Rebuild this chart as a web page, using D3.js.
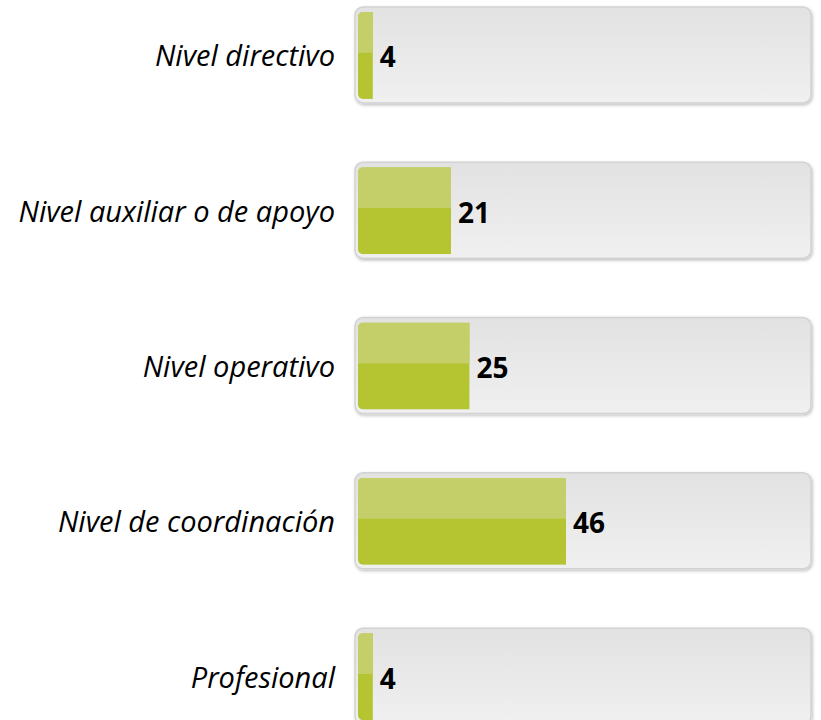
<!DOCTYPE html>
<html><head><meta charset="utf-8">
<script src="https://cdn.jsdelivr.net/npm/d3@7"></script>
<style>html,body{margin:0;padding:0;background:#fff;}svg{display:block;}</style>
</head><body>
<svg id="chart" width="821" height="720"></svg>
<script>
const categories = ["Nivel directivo","Nivel auxiliar o de apoyo","Nivel operativo","Nivel de coordinación","Profesional"];
const values = [4, 21, 25, 46, 4];
const maxValue = 100;

const svg = d3.select("#chart");
const defs = svg.append("defs");

const bgGrad = defs.append("linearGradient").attr("id","bgGrad").attr("x1",0).attr("y1",0).attr("x2",0).attr("y2",1);
bgGrad.append("stop").attr("offset","0%").attr("stop-color","#e3e2e2");
bgGrad.append("stop").attr("offset","100%").attr("stop-color","#f0f0f0");

const shadow = defs.append("filter").attr("id","shadow").attr("x","-5%").attr("y","-10%").attr("width","110%").attr("height","130%");
shadow.append("feDropShadow").attr("dx",1).attr("dy",1.5).attr("stdDeviation",1.5).attr("flood-color","#000").attr("flood-opacity",0.25);

const x = d3.scaleLinear().domain([0, maxValue]).range([354.4, 814.4]);
const y = d3.scaleBand().domain(categories).range([-22.2, 754.3]).paddingInner(0.44).paddingOuter(0.22);

const rows = svg.selectAll("g.row").data(categories.map((c,i)=>({c, v: values[i], i})))
  .enter().append("g").attr("class","row");

// background track
rows.append("rect")
  .attr("x", 355).attr("width", 811 - 355)
  .attr("y", d => y(d.c) - 5).attr("height", y.bandwidth() + 9)
  .attr("rx", 8).attr("ry", 8)
  .attr("fill", "url(#bgGrad)")
  .attr("stroke", "#d2d2d2").attr("stroke-width", 1.5)
  .attr("filter", "url(#shadow)");

// clip for inner bar
rows.each(function(d){
  defs.append("clipPath").attr("id","clip"+d.i)
    .append("rect").attr("x", 358).attr("width", 808 - 358)
    .attr("y", y(d.c)).attr("height", y.bandwidth()).attr("rx", 5).attr("ry", 5);
});

const bars = rows.append("g").attr("clip-path", d => "url(#clip"+d.i+")");
bars.append("rect")
  .attr("x", x(0)).attr("width", d => x(d.v) - x(0))
  .attr("y", d => y(d.c)).attr("height", y.bandwidth())
  .attr("fill", "#b5c431");
bars.append("rect")
  .attr("x", x(0)).attr("width", d => x(d.v) - x(0))
  .attr("y", d => y(d.c)).attr("height", y.bandwidth() * 0.47)
  .attr("fill", "#c5cf6a");

// category labels
rows.append("text")
  .attr("x", 335).attr("y", d => y(d.c) + y.bandwidth()/2 + 11)
  .attr("text-anchor", "end")
  .attr("font-family", "'Open Sans', sans-serif")
  .attr("font-style", "italic")
  .attr("font-size", 29)
  .attr("fill", "#000")
  .text(d => d.c);

// value labels
rows.append("text")
  .attr("x", d => x(d.v) + 7).attr("y", d => y(d.c) + y.bandwidth()/2 + 12)
  .attr("font-family", "'Open Sans', sans-serif")
  .attr("font-weight", "bold")
  .attr("font-size", 28)
  .attr("fill", "#000")
  .text(d => d.v);
</script>
</body></html>
